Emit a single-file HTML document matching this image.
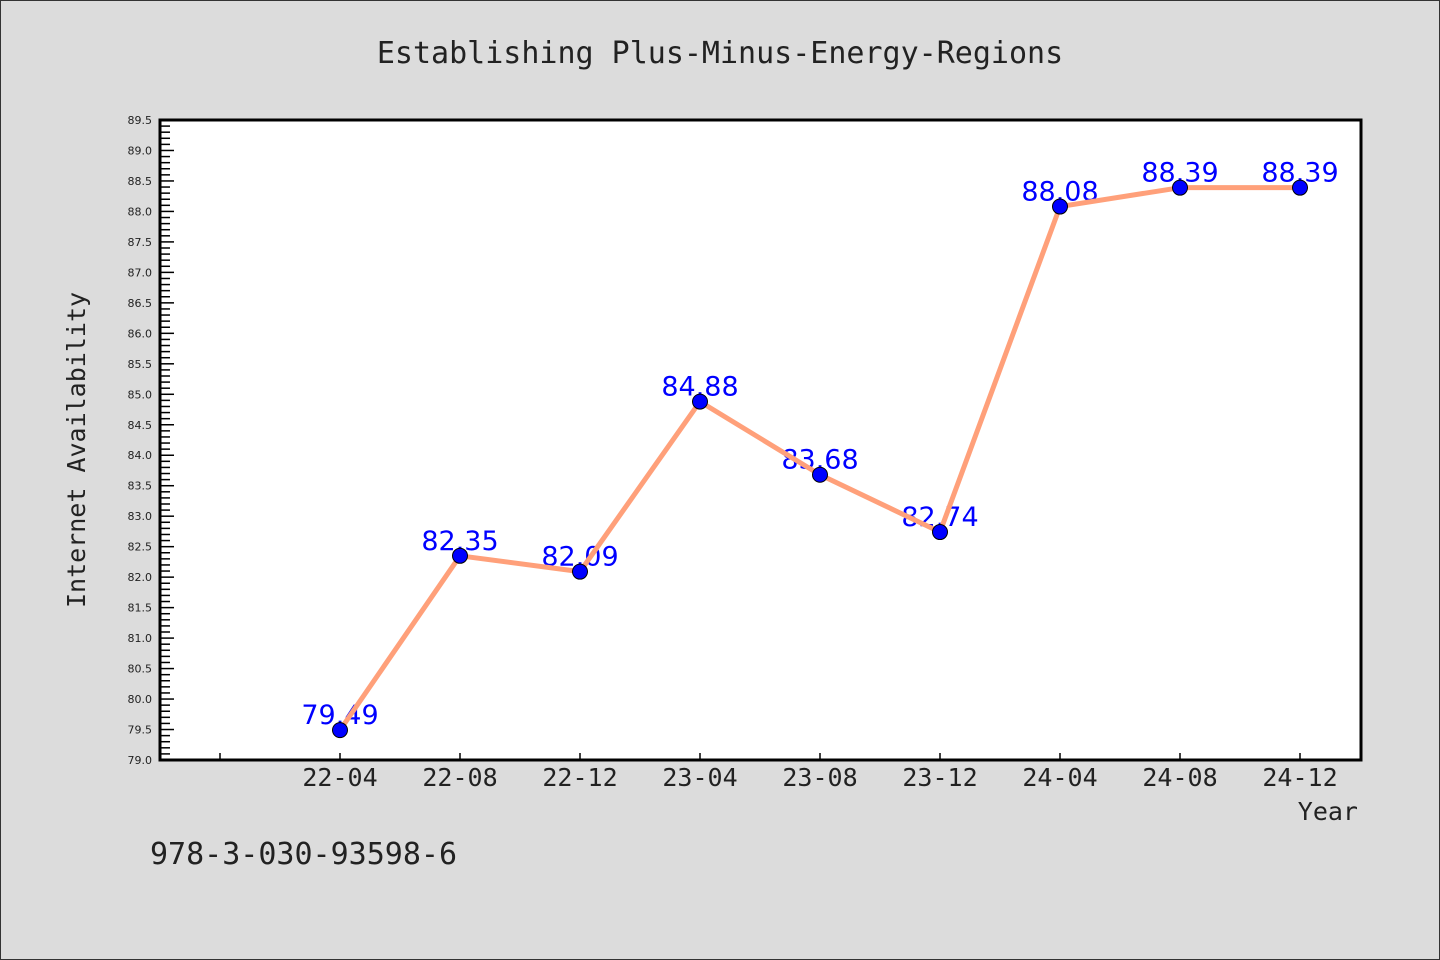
<!DOCTYPE html>
<html><head><meta charset="utf-8"><style>
html,body{margin:0;padding:0;background:#dcdcdc;}
svg{display:block;}
</style></head><body>
<svg width="1440" height="960" xmlns="http://www.w3.org/2000/svg">
<rect x="0.5" y="0.5" width="1439" height="959" fill="#dcdcdc" stroke="#333" stroke-width="1"/>
<text x="720" y="63" text-anchor="middle" font-family="'WenQuanYi Zen Hei','DejaVu Sans Mono',monospace" font-size="30" fill="#222">Establishing Plus-Minus-Energy-Regions</text>
<rect x="160" y="120" width="1201" height="640" fill="#fff"/>
<g id="yaxis"></g>
<g id="xaxis"></g>
<g id="labels"></g>
<g id="series"></g>
<path d="M160,120 H1361 V760 H160 Z" fill="none" stroke="#000" stroke-width="3"/>
<text transform="translate(85,450) rotate(-90)" text-anchor="middle" font-family="'WenQuanYi Zen Hei','DejaVu Sans Mono',monospace" font-size="25" fill="#222">Internet Availability</text>
<text x="1358" y="820" text-anchor="end" font-family="'WenQuanYi Zen Hei','DejaVu Sans Mono',monospace" font-size="25" fill="#222">Year</text>
<text x="150" y="864" font-family="'WenQuanYi Zen Hei','DejaVu Sans Mono',monospace" font-size="30" fill="#222">978-3-030-93598-6</text>
</svg>
<script>
const categories = ["22-04","22-08","22-12","23-04","23-08","23-12","24-04","24-08","24-12"];
const values = [79.49,82.35,82.09,84.88,83.68,82.74,88.08,88.39,88.39];
const yTicks = [79.0,79.5,80.0,80.5,81.0,81.5,82.0,82.5,83.0,83.5,84.0,84.5,85.0,85.5,86.0,86.5,87.0,87.5,88.0,88.5,89.0,89.5];
const NS="http://www.w3.org/2000/svg";
function yScale(v){return 760-(v-79.0)/(89.5-79.0)*640;}
function xScale(i){return 340+i*120;}
function mk(tag,attrs,parent){const e=document.createElementNS(NS,tag);for(const k in attrs)e.setAttribute(k,attrs[k]);parent.appendChild(e);return e;}
const ya=document.getElementById('yaxis'),xa=document.getElementById('xaxis'),lb=document.getElementById('labels'),se=document.getElementById('series');
for(let k=0;k<=105;k++){const v=79+k*0.1;const y=yScale(v);const major=k%5===0;
 const t=mk('line',{x1:160,x2:major?174:170,y1:y,y2:y,stroke:'#000','stroke-width':1.5},ya);
 
 }
yTicks.forEach(v=>{const t=mk('text',{x:152,y:yScale(v)+4,'text-anchor':'end','font-family':'DejaVu Sans,sans-serif','font-size':11,fill:'#222'},ya);t.textContent=v.toFixed(1);
 
 });
for(let i=-1;i<categories.length;i++){const x=xScale(i);
 const t=mk('line',{x1:x,x2:x,y1:760,y2:753,stroke:'#000','stroke-width':1.5},xa);
 
 
 if(i>=0){const l=mk('text',{x:x,y:786,'text-anchor':'middle','font-family':"'WenQuanYi Zen Hei','DejaVu Sans Mono',monospace",'font-size':25,fill:'#222'},xa);l.textContent=categories[i];
 
 }}
values.forEach((v,i)=>{const t=mk('text',{x:xScale(i),y:yScale(v)-6,'text-anchor':'middle','font-family':'DejaVu Sans,sans-serif','font-size':27,fill:'#0000ff'},lb);t.textContent=v.toFixed(2);
 
 });
const pts=values.map((v,i)=>xScale(i)+','+yScale(v)).join(' ');
const pl=mk('polyline',{points:pts,fill:'none',stroke:'#ffa07a','stroke-width':5,'stroke-linejoin':'round'},se);


values.forEach((v,i)=>{const c=mk('circle',{cx:xScale(i),cy:yScale(v),r:7.5,fill:'#0000ff',stroke:'#000','stroke-width':1},se);
 
 });
</script>
</body></html>
